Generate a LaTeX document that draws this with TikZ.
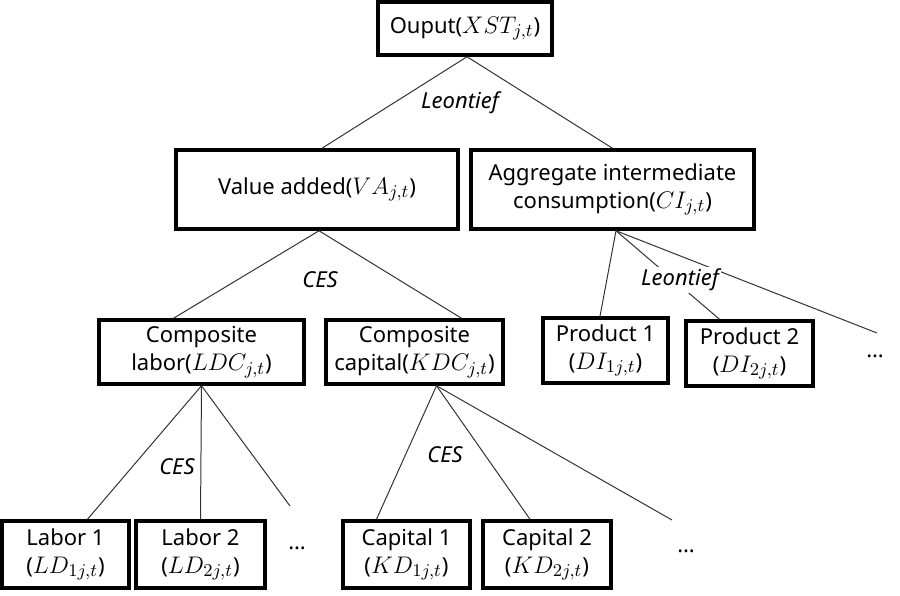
\documentclass[tikz,border=0pt]{standalone}
\usepackage{fontspec}
\setmainfont{Noto Sans}
\usepackage{tikz}
\usetikzlibrary{positioning}
\DeclareMathSizes{11}{12}{9}{7}

\begin{document}
\begin{tikzpicture}[x=0.5pt,y=-0.5pt,
	box/.style={draw,line width=1.75pt,align=center,inner sep=2pt,
		font=\fontsize{11}{14}\selectfont},
	lbl/.style={fill=white,inner sep=1pt,font=\fontsize{11}{14}\selectfont\itshape},
	dots/.style={font=\fontsize{11}{14}\selectfont},
	every edge/.style={draw,line width=0.5pt,black!80}]
	
	\useasboundingbox (0,0) rectangle (900,595);
	
	% top level
	\node[box,minimum width=87pt,minimum height=26.5pt] (out) at (465,28.5) {Ouput($XST_{j,t}$)};
	\node[box,minimum width=141pt,minimum height=39.5pt] (va) at (317,189.5) {Value added($VA_{j,t}$)};
	\node[box,minimum width=141.5pt,minimum height=39.5pt] (ci) at (612.5,189.5) {Aggregate intermediate\\consumption($CI_{j,t}$)};
	
	% second level
	\node[box,minimum width=102.5pt,minimum height=32pt] (ldc) at (201.5,352) {Composite\\labor($LDC_{j,t}$)};
	\node[box,minimum width=88.5pt,minimum height=32pt] (kdc) at (414.5,352) {Composite\\capital($KDC_{j,t}$)};
	\node[box,minimum width=62.5pt,minimum height=32.5pt] (di1) at (605.5,350.5) {Product 1\\($DI_{1j,t}$)};
	\node[box,minimum width=63.5pt,minimum height=32.5pt] (di2) at (749.5,353.5) {Product 2\\($DI_{2j,t}$)};
	\node[dots] (dotsdi) at (875,356) {\dots};
	
	% bottom level
	\node[box,minimum width=63.5pt,minimum height=33.5pt] (ld1) at (65.5,554.5) {Labor 1\\($LD_{1j,t}$)};
	\node[box,minimum width=64.5pt,minimum height=33.5pt] (ld2) at (200.5,554.5) {Labor 2\\($LD_{2j,t}$)};
	\node[dots] (dotsld) at (297,548) {\dots};
	\node[box,minimum width=63.5pt,minimum height=33.5pt] (kd1) at (406.5,554.5) {Capital 1\\($KD_{1j,t}$)};
	\node[box,minimum width=64pt,minimum height=33.5pt] (kd2) at (547,554.5) {Capital 2\\($KD_{2j,t}$)};
	\node[dots] (dotskd) at (686,551) {\dots};
	
	\coordinate (enddi) at (877,333);
	\coordinate (endld) at (290,506);
	\coordinate (endkd) at (672,520);
	
	\path
	([xshift=1pt]out.south) edge ([xshift=2.5pt]va.north)
	([xshift=1pt]out.south) edge (ci.north)
	([xshift=1pt]va.south) edge ([xshift=-14pt]ldc.north)
	([xshift=1pt]va.south) edge ([xshift=23.5pt]kdc.north)
	([xshift=1.75pt]ci.south) edge ([xshift=-2.75pt]di1.north)
	([xshift=1.75pt]ci.south) edge ([xshift=-15pt]di2.north)
	([xshift=1.75pt]ci.south) edge (enddi)
	(ldc.south) edge ([xshift=11pt]ld1.north)
	(ldc.south) edge (ld2.north)
	(ldc.south) edge (endld)
	([xshift=11pt]kdc.south) edge ([xshift=-15pt]kd1.north)
	([xshift=11pt]kdc.south) edge ([xshift=-8.5pt]kd2.north)
	([xshift=11pt]kdc.south) edge (endkd);
	
	% labels of the nests
	\node[lbl] (fout) at (460,103) {Leontief};
	\node[lbl] (fva) at (320,280) {CES};
	\node[lbl] (fci) at (680,280) {Leontief};
	\node[lbl] (fldc) at (177,467) {CES};
	\node[lbl] (fkdc) at (445,455) {CES};
\end{tikzpicture}
\end{document}
